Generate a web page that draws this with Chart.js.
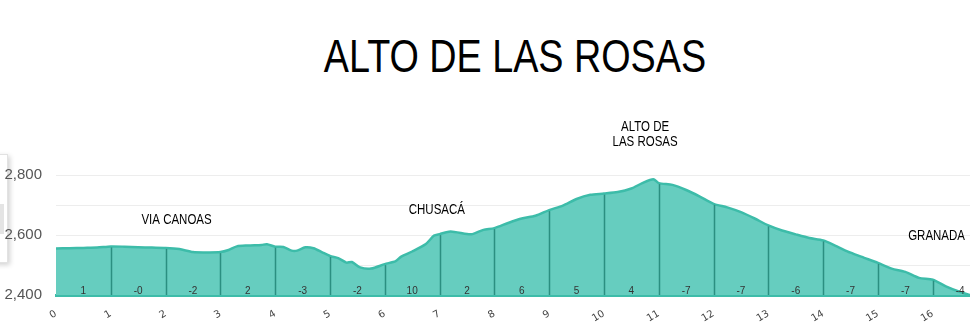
<!DOCTYPE html>
<html>
<head>
<meta charset="utf-8">
<script src="https://cdn.jsdelivr.net/npm/chart.js@4.4.1/dist/chart.umd.min.js"></script>
<style>
  body { margin: 0; background: #fff; }
  #wrap { position: relative; width: 970px; height: 334px; overflow: hidden; }
  #panel { position: absolute; left: -20px; top: 154px; width: 26px; height: 107px; background: #fff;
           border: 1px solid #e2e2e2; box-shadow: 2px 2px 5px rgba(0,0,0,0.18); }
  #panel div { position: absolute; left: 19px; top: 49px; width: 4px; height: 30px; background: #e4e4e4; }
  #title { position: absolute; left: 0; top: 30px; width: 1256px; text-align: center;
           font: 46px "Liberation Sans", Arial, sans-serif; color: #000; line-height: 53px;
           transform: scaleX(0.82); transform-origin: 0 0; white-space: nowrap; }
  #profile { position: relative; z-index: 1; }
</style>
</head>
<body>
<div id="wrap">
  <div id="panel"><div></div></div>
  <div id="title">ALTO DE LAS ROSAS</div>
  <canvas id="profile"></canvas>
</div>
<script>
// distance along the route (km) and elevation (m)
const distance = [0, 0.25, 0.5, 0.75, 1, 1.25, 1.5, 1.75, 2, 2.25, 2.5, 2.75, 3, 3.15, 3.3, 3.5, 3.75, 3.85,
  4, 4.15, 4.3, 4.4, 4.55, 4.7, 4.85, 5, 5.15, 5.3, 5.4, 5.55, 5.75, 6, 6.2, 6.3, 6.5, 6.75, 6.9,
  7, 7.2, 7.5, 7.6, 7.8, 8, 8.25, 8.5, 8.75, 9, 9.25, 9.5, 9.75, 10, 10.25, 10.5, 10.7, 10.9,
  11, 11.25, 11.5, 11.75, 12, 12.25, 12.5, 12.75, 13, 13.25, 13.5, 13.75, 14, 14.25, 14.5, 14.75,
  15, 15.25, 15.5, 15.75, 16, 16.25, 16.5, 16.68];
const elevation = [2555, 2556, 2557, 2558, 2562, 2561, 2559, 2558, 2557, 2553, 2543, 2542, 2543, 2550, 2562, 2565, 2567, 2569,
  2561, 2560, 2548, 2548, 2559, 2556, 2543, 2530, 2523, 2508, 2510, 2492, 2488, 2503, 2513, 2528, 2545, 2570, 2598,
  2603, 2612, 2603, 2603, 2617, 2623, 2640, 2655, 2664, 2683, 2698, 2720, 2734, 2738, 2743, 2755, 2773, 2786,
  2773, 2767, 2750, 2728, 2704, 2692, 2676, 2655, 2632, 2615, 2602, 2590, 2582, 2562, 2541, 2524,
  2507, 2488, 2477, 2457, 2451, 2428, 2410, 2400];

// average grade (%) of each kilometre
const grades = ['1', '-0', '-2', '2', '-3', '-2', '10', '2', '6', '5', '4', '-7', '-7', '-6', '-7', '-7', '-4'];

// named places along the route
const places = [['VIA CANOAS'], ['CHUSACÁ'], ['ALTO DE', 'LAS ROSAS'], ['GRANADA']];
const placeKm = [2.2, 6.95, 10.75, 16.07];
const placeElev = [2650, 2683, 2960, 2597];

const teal = '#3dbca9';
const sans = '"Liberation Sans", Arial, sans-serif';

function elevAt(km) {
  for (let i = 1; i < distance.length; i++) {
    if (km <= distance[i]) {
      const t = (km - distance[i - 1]) / (distance[i] - distance[i - 1]);
      return elevation[i - 1] + t * (elevation[i] - elevation[i - 1]);
    }
  }
  return elevation[elevation.length - 1];
}

const profileMarks = {
  id: 'profileMarks',
  afterDatasetsDraw(chart) {
    const { ctx, scales: { x, y } } = chart;
    ctx.save();
    // kilometre dividers
    ctx.strokeStyle = '#2b8f81';
    ctx.lineWidth = 1.5;
    for (let k = 1; k < distance[distance.length - 1]; k++) {
      const px = Math.round(x.getPixelForValue(k)) + 0.5;
      ctx.beginPath();
      ctx.moveTo(px, y.getPixelForValue(y.min));
      ctx.lineTo(px, y.getPixelForValue(elevAt(k)) + 1);
      ctx.stroke();
    }
    // grade labels
    ctx.fillStyle = '#333';
    ctx.font = '10px ' + sans;
    ctx.textAlign = 'center';
    ctx.textBaseline = 'middle';
    grades.forEach((g, i) => {
      ctx.fillText(g, x.getPixelForValue(i + 0.5), 291);
    });
    // place names, condensed
    ctx.fillStyle = '#000';
    ctx.font = '14px ' + sans;
    places.forEach((lines, i) => {
      const px = x.getPixelForValue(placeKm[i]);
      const py = y.getPixelForValue(placeElev[i]);
      lines.forEach((t, j) => {
        ctx.save();
        ctx.translate(px, py + j * 15);
        ctx.scale(0.82, 1);
        ctx.fillText(t, 0, 0);
        ctx.restore();
      });
    });
    ctx.restore();
  }
};

new Chart(document.getElementById('profile'), {
  type: 'line',
  data: {
    datasets: [{
      data: distance.map((d, i) => ({ x: d, y: elevation[i] })),
      borderColor: teal,
      borderWidth: 2.5,
      backgroundColor: '#66cdbf',
      fill: 'start',
      pointRadius: 0,
      tension: 0.25
    }]
  },
  options: {
    responsive: true,
    maintainAspectRatio: false,
    animation: false,
    layout: { padding: { top: 175, right: 0, left: 0, bottom: 0 } },
    plugins: {
      legend: { display: false },
      tooltip: { enabled: false }
    },
    scales: {
      x: {
        type: 'linear',
        min: 0,
        max: 16.68,
        afterFit(scale) { scale.height = 39; },
        grid: { display: false },
        border: { display: true, color: teal, width: 3 },
        ticks: {
          stepSize: 1,
          includeBounds: false,
          minRotation: 30,
          maxRotation: 30,
          padding: 5,
          color: '#444',
          font: { family: 'DejaVu Sans', size: 10 }
        }
      },
      y: {
        min: 2400,
        max: 2800,
        afterFit(scale) { scale.width = 56; },
        grid: { color: '#ededed', drawTicks: false },
        border: { display: false },
        ticks: {
          stepSize: 100,
          padding: 14,
          color: '#555',
          font: { family: sans, size: 15 },
          callback: v => (v % 200 === 0 ? v.toLocaleString('en-US') : '')
        }
      }
    }
  },
  plugins: [profileMarks]
});
</script>
</body>
</html>
